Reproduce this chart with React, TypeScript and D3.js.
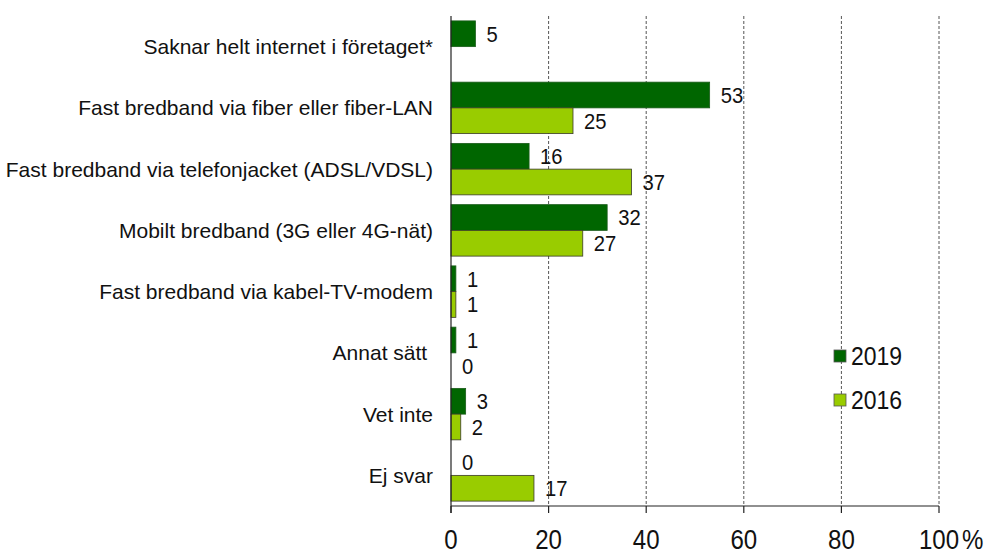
import React from "react";
import * as d3 from "d3";

const categories = [
  "Saknar helt internet i företaget*",
  "Fast bredband via fiber eller fiber-LAN",
  "Fast bredband via telefonjacket (ADSL/VDSL)",
  "Mobilt bredband (3G eller 4G-nät)",
  "Fast bredband via kabel-TV-modem",
  "Annat sätt\u00a0",
  "Vet inte",
  "Ej svar",
];
const series = ["2019", "2016"];
const values2019: (number | null)[] = [5, 53, 16, 32, 1, 1, 3, 0];
const values2016: (number | null)[] = [null, 25, 37, 27, 1, 0, 2, 17];
const xTicks = [0, 20, 40, 60, 80, 100];

const colors: Record<string, string> = { "2019": "#006600", "2016": "#99CC00" };
const strokes: Record<string, string> = { "2019": "#1a5c1a", "2016": "#3a3a2a" };

export default function App() {
  const W = 989, H = 551;
  const left = 451, right = 939, top = 16, bottom = 506;
  const x = d3.scaleLinear().domain([0, 100]).range([left, right]);
  const y = d3.scaleBand<string>().domain(categories).range([top, bottom]).paddingInner(0).paddingOuter(0);
  const inner = d3.scaleBand<string>().domain(series).range([0, y.bandwidth()]).paddingInner(0).paddingOuter(0.19);
  const font = "'Liberation Sans', Arial, sans-serif";
  const data: Record<string, (number | null)[]> = { "2019": values2019, "2016": values2016 };

  return (
    <svg width={W} height={H} style={{ position: "absolute", left: 0, top: 0, background: "#fff" }} fontFamily={font}>
      {/* gridlines */}
      {xTicks.filter((t) => t > 0).map((t) => (
        <line key={"g" + t} x1={x(t)} x2={x(t)} y1={top} y2={bottom} stroke="#555" strokeWidth={1} strokeDasharray="3,2" />
      ))}
      {/* bars */}
      {categories.map((c, i) => (
        <g key={c} transform={`translate(0,${y(c)})`}>
          {series.map((s) => {
            const v = data[s][i];
            if (v === null) return null;
            const yy = inner(s)!;
            const h = inner.bandwidth();
            return (
              <g key={s}>
                {v > 0 && (
                  <rect x={x(0)} y={yy} width={x(v) - x(0)} height={h} fill={colors[s]} stroke={strokes[s]} strokeWidth={0.8} />
                )}
                <text transform={`translate(${x(v) + 11},${yy + h / 2}) scale(0.92,1)`} dy="0.36em" fontSize={22} fill="#111">{v}</text>
              </g>
            );
          })}
          <text x={433} y={y.bandwidth() / 2} dy="0.36em" textAnchor="end" fontSize={21} fill="#111" xmlSpace="preserve">{c}</text>
        </g>
      ))}
      {/* axes */}
      <line x1={left} x2={left} y1={top} y2={bottom + 7} stroke="#222" strokeWidth={1.2} />
      <line x1={left} x2={right} y1={bottom} y2={bottom} stroke="#222" strokeWidth={1.2} />
      {xTicks.map((t) => (
        <g key={"t" + t}>
          <line x1={x(t)} x2={x(t)} y1={bottom} y2={bottom + 7} stroke="#222" strokeWidth={1.2} />
          <text transform={`translate(${x(t)},549) scale(0.86,1)`} textAnchor="middle" fontSize={28} fill="#111">{t}</text>
        </g>
      ))}
      <text transform={`translate(${x(100) + 23},549) scale(0.86,1)`} textAnchor="start" fontSize={28} fill="#111">%</text>
      {/* legend */}
      {series.map((s, i) => (
        <g key={"l" + s} transform={`translate(834,${350 + i * 44})`}>
          <rect x={0} y={0} width={12} height={12} fill={colors[s]} stroke="#555" strokeWidth={0.8} />
          <text transform="translate(17,6) scale(0.92,1)" dy="0.36em" fontSize={25} fill="#111">{s}</text>
        </g>
      ))}
    </svg>
  );
}
